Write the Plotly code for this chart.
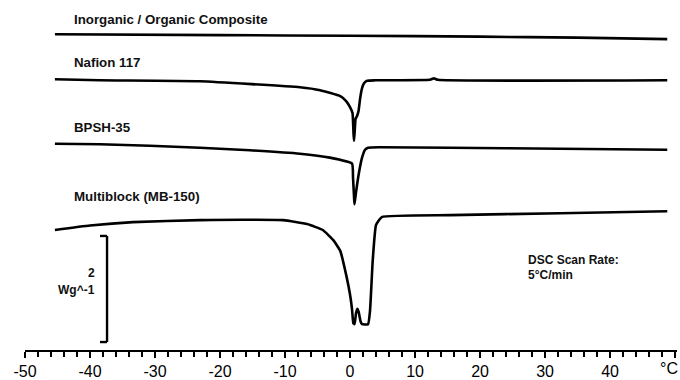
import plotly.graph_objects as go

# Temperature (°C) and heat flow (W/g, stacked with vertical offsets as displayed)
comp_T = [-45.4, -20, 0, 20, 35, 48.8]
comp_Q = [5.953, 5.935, 5.925, 5.907, 5.888, 5.860]

naf_T = [-45.4, -38.5, -23.1, -7.7, -4.6, -1.5, -0.6, 0.0, 0.38, 0.54, 0.62, 0.74, 0.85,
         1.08, 1.31, 1.54, 1.85, 2.15, 2.62, 3.85, 12.3, 12.9, 13.5, 48.8]
naf_Q = [5.103, 5.084, 5.065, 4.953, 4.897, 4.785, 4.692, 4.579, 4.467, 4.075, 3.944, 4.168, 4.355,
         4.411, 4.505, 4.729, 4.935, 5.028, 5.075, 5.084, 5.093, 5.121, 5.093, 5.084]

bpsh_T = [-45.4, -38.5, -30.8, -23.1, -15.4, -7.7, -3.1, 0.31, 0.46, 0.62, 0.69, 0.92,
          1.38, 1.85, 2.31, 2.77, 4.62, 15.4, 32.3, 48.8]
bpsh_Q = [3.888, 3.879, 3.850, 3.813, 3.766, 3.701, 3.626, 3.514, 3.252, 2.879, 2.748, 2.972,
          3.346, 3.626, 3.776, 3.813, 3.822, 3.813, 3.794, 3.776]

mb_T = [-45.4, -40.0, -33.4, -23.1, -10.3, -6.6, -4.2, -2.6, -1.5, -0.5, 0.0, 0.31, 0.51,
        0.69, 0.92, 1.12, 1.31, 1.62, 1.85, 2.77, 3.08, 3.49, 4.0, 4.88, 15.4, 32.3, 48.8]
mb_Q = [2.262, 2.346, 2.411, 2.449, 2.449, 2.374, 2.262, 2.075, 1.869, 1.364, 1.047, 0.766, 0.505,
        0.486, 0.692, 0.776, 0.729, 0.542, 0.486, 0.486, 0.748, 1.682, 2.355, 2.505, 2.542, 2.579, 2.617]

labels = ["Inorganic / Organic Composite", "Nafion 117", "BPSH-35", "Multiblock (MB-150)"]
label_Q = [6.224, 5.421, 4.187, 2.890]

x_ticks = [-50, -40, -30, -20, -10, 0, 10, 20, 30, 40, 50]
x_ticktext = ["-50", "-40", "-30", "-20", "-10", "0", "10", "20", "30", "40", ""]
x_unit = "°C"

scale_bar = 2.0       # W/g
scale_base = 0.15     # W/g position of bar bottom

FONT = "Liberation Sans, Arial, sans-serif"

fig = go.Figure()
for T, Q in [(comp_T, comp_Q), (naf_T, naf_Q), (bpsh_T, bpsh_Q), (mb_T, mb_Q)]:
    fig.add_trace(go.Scatter(x=T, y=Q, mode="lines",
                             line=dict(color="black", width=2.6, shape="spline", smoothing=0.4),
                             showlegend=False, hoverinfo="skip"))

for txt, q in zip(labels, label_Q):
    fig.add_annotation(x=-42.8, y=q, text="<b>" + txt + "</b>", showarrow=False,
                       xanchor="left", yanchor="middle",
                       font=dict(family=FONT, size=13.3, color="#111"))

# scale bar
bx, bx2 = -37.38, -38.46
fig.add_shape(type="line", x0=bx, x1=bx, y0=scale_base, y1=scale_base + scale_bar,
              line=dict(color="black", width=2.4))
fig.add_shape(type="line", x0=bx2, x1=bx, y0=scale_base, y1=scale_base,
              line=dict(color="black", width=2.4))
fig.add_shape(type="line", x0=bx2, x1=bx, y0=scale_base + scale_bar, y1=scale_base + scale_bar,
              line=dict(color="black", width=2.4))
fig.add_annotation(x=-38.9, y=1.458, text="<b>%g</b>" % scale_bar, showarrow=False,
                   xanchor="right", yanchor="middle", font=dict(family=FONT, size=12, color="#111"))
fig.add_annotation(x=-38.9, y=1.140, text="<b>Wg^-1</b>", showarrow=False,
                   xanchor="right", yanchor="middle", font=dict(family=FONT, size=12, color="#111"))

fig.add_annotation(x=27.0, y=1.70, text="<b>DSC Scan Rate:</b>", showarrow=False,
                   xanchor="left", yanchor="middle", font=dict(family=FONT, size=12, color="#111"))
fig.add_annotation(x=27.0, y=1.42, text="<b>5°C/min</b>", showarrow=False,
                   xanchor="left", yanchor="middle", font=dict(family=FONT, size=12, color="#111"))

# unit label in place of the last tick label, plus the end tick
fig.add_annotation(x=x_ticks[-1], xref="x", y=0, yref="paper", text=x_unit, showarrow=False,
                   xanchor="right", yanchor="middle", xshift=5, yshift=-18,
                   font=dict(family=FONT, size=16, color="black"))
fig.add_shape(type="line", xref="x", yref="paper", x0=x_ticks[-1], x1=x_ticks[-1],
              y0=0, y1=-6 / 353, line=dict(color="black", width=2))

fig.update_layout(
    width=680, height=380,
    margin=dict(l=25, r=3, t=0, b=27),
    plot_bgcolor="white", paper_bgcolor="white",
    xaxis=dict(range=[-50, 50.3], tickvals=x_ticks, ticktext=x_ticktext,
               showgrid=False, zeroline=False, showline=True, linecolor="black", linewidth=2.4,
               ticks="outside", ticklen=6, tickwidth=2, tickcolor="black",
               minor=dict(dtick=2, ticks="outside", ticklen=5, tickwidth=2, tickcolor="black"),
               tickfont=dict(family=FONT, size=16, color="black"), fixedrange=True),
    yaxis=dict(range=[0, 6.598], visible=False, fixedrange=True),
)

fig.write_html("out.html")
